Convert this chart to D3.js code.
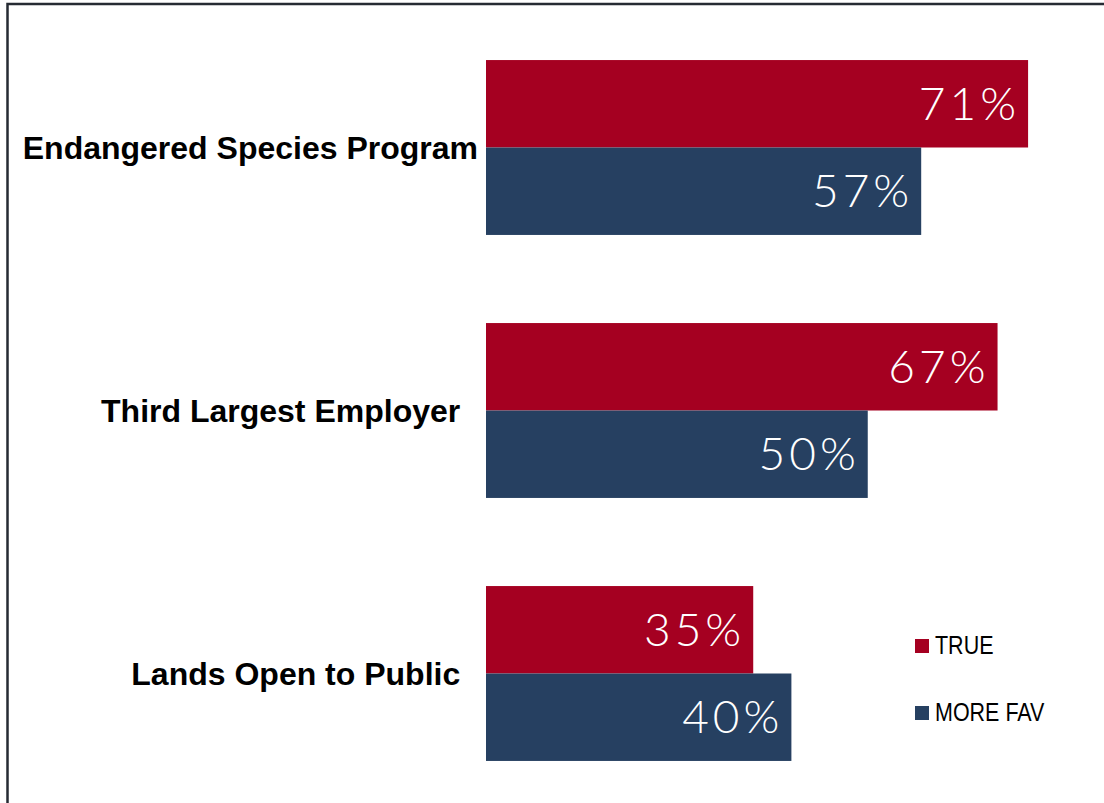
<!DOCTYPE html>
<html>
<head>
<meta charset="utf-8">
<script src="https://cdn.jsdelivr.net/npm/d3@7"></script>
<style>
  html, body { margin: 0; padding: 0; background: #fff; overflow: hidden; }
  svg { display: block; }
</style>
</head>
<body>
<svg id="chart" width="1104" height="803"></svg>
<script>
// Survey items and their shares (%)
const categories = ["Endangered Species Program", "Third Largest Employer\u00a0\u00a0", "Lands Open to Public\u00a0\u00a0"];
const seriesNames = ["TRUE", "MORE FAV"];
const trueValues = [71, 67, 35];
const moreFavValues = [57, 50, 40];
const seriesColors = ["#A50021", "#264061"];

const svg = d3.select("#chart");

// Frame around the plot area
svg.append("path")
  .attr("d", "M7.5,1110 V4 H1110")
  .attr("fill", "none")
  .attr("stroke", "#262b33")
  .attr("stroke-width", 2.5);

const x = d3.scaleLinear().domain([0, 100]).range([486, 486 + 763.5]);

const y = d3.scaleBand()
  .domain(categories)
  .range([16, 805])
  .paddingInner(0.335)
  .paddingOuter(0.1675);

const ySeries = d3.scaleBand()
  .domain(seriesNames)
  .range([0, y.bandwidth()]);

const color = d3.scaleOrdinal().domain(seriesNames).range(seriesColors);

const rows = categories.map((c, i) => ({
  category: c,
  values: [
    { series: "TRUE", value: trueValues[i] },
    { series: "MORE FAV", value: moreFavValues[i] }
  ]
}));

const groups = svg.selectAll("g.group")
  .data(rows)
  .join("g")
  .attr("class", "group")
  .attr("transform", d => `translate(0,${y(d.category)})`);

groups.selectAll("rect")
  .data(d => d.values)
  .join("rect")
  .attr("x", x(0))
  .attr("y", d => ySeries(d.series))
  .attr("width", d => x(d.value) - x(0))
  .attr("height", ySeries.bandwidth())
  .attr("fill", d => color(d.series));

groups.selectAll("text.value")
  .data(d => d.values)
  .join("text")
  .attr("class", "value")
  .attr("x", d => x(d.value) - 8)
  .attr("y", d => ySeries(d.series) + ySeries.bandwidth() / 2 + 16)
  .attr("text-anchor", "end")
  .attr("fill", "#ffffff")
  .style("font-family", "Lato, 'Open Sans', sans-serif")
  .style("font-weight", 300)
  .style("font-size", "46px")
  .style("letter-spacing", "4px")
  .text(d => d.value + "%");

// Category axis labels
const yAxis = d3.axisLeft(y).tickSize(0).tickPadding(8);
const axisG = svg.append("g")
  .attr("transform", `translate(${x(0)},0)`)
  .call(yAxis);
axisG.select(".domain").remove();
axisG.selectAll("text")
  .attr("fill", "#000")
  .attr("dy", "0.36em")
  .style("font-family", "'Liberation Sans', Arial, sans-serif")
  .style("font-weight", "bold")
  .style("font-size", "32px")
  .style("white-space", "pre");

// Legend
const legend = svg.append("g").attr("transform", "translate(915,639)");
const items = legend.selectAll("g")
  .data(seriesNames)
  .join("g")
  .attr("transform", (d, i) => `translate(0,${i * 67})`);
items.append("rect")
  .attr("width", 14)
  .attr("height", 14)
  .attr("fill", d => color(d));
items.append("text")
  .attr("transform", "translate(20,15) scale(0.86,1)")
  .attr("fill", "#000")
  .style("font-family", "'Liberation Sans', Arial, sans-serif")
  .style("font-size", "25px")
  .text(d => d);
</script>
</body>
</html>
